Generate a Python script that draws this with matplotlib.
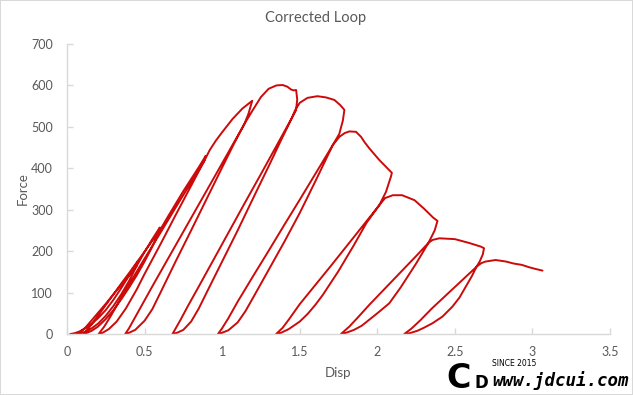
import matplotlib
matplotlib.use("Agg")
import matplotlib.pyplot as plt

# Displacement / force path of the corrected hysteresis loop
disp = [
    # initial loading
    0.021, 0.05, 0.08, 0.12, 0.16, 0.20, 0.25, 0.30, 0.35, 0.40, 0.43, 0.455,
    # unload 1
    0.447, 0.42, 0.38, 0.34, 0.30, 0.25, 0.20, 0.16, 0.12, 0.09, 0.064,
    # reload 1
    0.09, 0.12, 0.16, 0.20, 0.25, 0.30, 0.35, 0.40, 0.447, 0.50, 0.55, 0.598,
    # unload 2
    0.59, 0.55, 0.50, 0.45, 0.40, 0.35, 0.30, 0.25, 0.20, 0.16, 0.13, 0.107,
    # reload 2
    0.13, 0.16, 0.20, 0.25, 0.30, 0.35, 0.40, 0.45, 0.50, 0.55, 0.592, 0.65, 0.70, 0.75, 0.80, 0.85, 0.894,
    # unload 3
    0.885, 0.80, 0.70, 0.60, 0.50, 0.40, 0.33, 0.28, 0.24, 0.204,
    # reload 3
    0.23, 0.27, 0.32, 0.38, 0.45, 0.50, 0.60, 0.70, 0.80, 0.885, 0.92, 0.96, 1.00, 1.067, 1.13, 1.194,
    # unload 4
    1.17, 1.145, 1.05, 0.95, 0.85, 0.75, 0.65, 0.55, 0.48, 0.43, 0.40, 0.375,
    # reload 4
    0.40, 0.44, 0.50, 0.55, 0.60, 0.70, 0.80, 0.90, 1.00, 1.08, 1.145, 1.20, 1.25, 1.30, 1.35, 1.39, 1.42,
    1.445, 1.462, 1.477,
    # unload 5
    1.484, 1.476, 1.45, 1.35, 1.25, 1.15, 1.05, 0.95, 0.85, 0.78, 0.73, 0.70, 0.68,
    # reload 5
    0.71, 0.75, 0.80, 0.85, 0.90, 1.00, 1.10, 1.20, 1.30, 1.38, 1.45, 1.47, 1.50, 1.55, 1.614, 1.67, 1.723,
    1.76, 1.788,
    # unload 6
    1.778, 1.755, 1.713, 1.60, 1.50, 1.40, 1.30, 1.20, 1.10, 1.04, 1.00, 0.973,
    # reload 6
    1.00, 1.04, 1.10, 1.15, 1.20, 1.30, 1.40, 1.50, 1.60, 1.713, 1.756, 1.79, 1.82, 1.863, 1.895, 1.92,
    1.949, 2.013, 2.094,
    # unload 7
    2.088, 2.056, 2.013, 1.90, 1.80, 1.70, 1.60, 1.50, 1.43, 1.39, 1.348,
    # reload 7
    1.38, 1.43, 1.50, 1.55, 1.60, 1.65, 1.75, 1.85, 1.93, 2.013, 2.05, 2.10, 2.16, 2.24, 2.30, 2.36, 2.388,
    # unload 8
    2.37, 2.33, 2.25, 2.15, 2.05, 1.95, 1.87, 1.82, 1.766,
    # reload 8
    1.80, 1.85, 1.90, 1.95, 2.00, 2.077, 2.15, 2.25, 2.33, 2.356, 2.40, 2.50, 2.59, 2.667, 2.688,
    # unload 9
    2.68, 2.66, 2.639, 2.55, 2.45, 2.35, 2.28, 2.22, 2.174,
    # reload 9 and final loading
    2.21, 2.26, 2.30, 2.356, 2.42, 2.484, 2.53, 2.57, 2.61, 2.639, 2.67, 2.699, 2.763, 2.828, 2.88,
    2.93, 2.98, 3.02, 3.065,
]

force = [
    0, 2, 6, 14, 25, 38, 58, 83, 111, 141, 160, 174,
    163, 150, 132, 114, 96, 73, 51, 33, 16, 6, 0,
    2, 6, 14, 25, 44, 68, 96, 128, 163, 198, 229, 257,
    245, 225, 199, 173, 147, 122, 96, 70, 44, 24, 10, 0,
    3, 8, 18, 36, 58, 84, 112, 142, 175, 211, 246, 283, 314, 345, 374, 403, 430,
    418, 366, 305, 243, 182, 120, 75, 42, 18, 0,
    3, 12, 30, 62, 108, 145, 215, 287, 358, 418, 444, 467, 487, 519, 544, 563,
    532, 508, 445, 379, 313, 247, 181, 115, 68, 34, 14, 0,
    3, 10, 32, 60, 98, 175, 250, 326, 402, 462, 508, 542, 572, 592, 600, 601, 597,
    590, 588, 589,
    566, 540, 522, 454, 386, 319, 251, 183, 115, 68, 33, 13, 0,
    3, 10, 30, 62, 100, 175, 250, 328, 405, 468, 522, 540, 558, 570, 574, 571, 565,
    553, 541,
    515, 483, 456, 386, 324, 263, 201, 140, 78, 38, 14, 0,
    3, 9, 28, 55, 88, 155, 222, 292, 368, 456, 476, 485, 489, 488, 476, 462,
    448, 420, 389,
    380, 343, 311, 258, 211, 164, 118, 72, 35, 15, 0,
    3, 12, 30, 48, 70, 95, 152, 215, 268, 311, 328, 335, 335, 323, 303, 281, 273,
    250, 220, 188, 149, 110, 71, 38, 18, 0,
    3, 10, 20, 35, 50, 74, 112, 170, 220, 227, 231, 229, 220, 211, 207,
    192, 175, 162, 131, 96, 61, 34, 13, 0,
    2, 8, 15, 26, 42, 66, 88, 114, 140, 162, 171, 175, 178.6, 175, 170,
    167, 161, 157, 153,
]

x_ticks = [0, 0.5, 1, 1.5, 2, 2.5, 3, 3.5]
x_tick_labels = ["0", "0.5", "1", "1.5", "2", "2.5", "3", "3.5"]
y_ticks = [0, 100, 200, 300, 400, 500, 600, 700]

title = "Corrected Loop"
x_label = "Disp"
y_label = "Force"

plt.rcParams['font.family'] = ['Lato', 'DejaVu Sans']

W, H = 633, 395
fig = plt.figure(figsize=(W / 100, H / 100), dpi=100)
fig.patch.set_facecolor('white')
fig.patch.set_edgecolor('#D9D9D9')
fig.patch.set_linewidth(1.2)

ax = fig.add_axes([67 / W, 1 - 334 / H, (610 - 67) / W, (334 - 44) / H])
ax.plot(disp, force, color='#CC0A0A', lw=1.4, solid_joinstyle='round', solid_capstyle='round')

ax.set_xlim(0, 3.5)
ax.set_ylim(0, 700)
ax.set_xticks(x_ticks)
ax.set_xticklabels(x_tick_labels)
ax.set_yticks(y_ticks)

for s in ['top', 'right']:
    ax.spines[s].set_visible(False)
for s in ['left', 'bottom']:
    ax.spines[s].set_color('#D9D9D9')
    ax.spines[s].set_linewidth(1.0)

ax.tick_params(axis='x', direction='in', length=4, width=1, color='#D9D9D9',
               labelcolor='#595959', labelsize=9, pad=9)
ax.tick_params(axis='y', direction='in', length=4, width=1, color='#D9D9D9',
               labelcolor='#595959', labelsize=9, pad=10)

ax.set_xlabel(x_label, color='#595959', fontsize=9.5, labelpad=6)
ax.set_ylabel(y_label, color='#595959', fontsize=9.5, labelpad=1.5)

fig.text(316 / W, 1 - 18 / H, title, ha='center', va='center', color='#595959', fontsize=10.5)

# watermark
fig.text(446 / W, 1 - 388 / H, "C", ha='left', va='baseline', fontsize=24, fontweight='heavy',
         color='black', family='DejaVu Sans')
fig.text(474 / W, 1 - 388 / H, "D", ha='left', va='baseline', fontsize=12, fontweight='heavy',
         color='black', family='DejaVu Sans')
fig.text(492 / W, 1 - 364 / H, "SINCE 2015", ha='left', va='center', fontsize=5.5, color='black',
         family='DejaVu Sans')
fig.text(492 / W, 1 - 381 / H, "www.jdcui.com", ha='left', va='center', fontsize=12.5,
         fontweight='bold', style='oblique', color='black', family='DejaVu Sans Mono')

fig.savefig('out.png', dpi=100, facecolor=fig.get_facecolor(), edgecolor=fig.get_edgecolor())
